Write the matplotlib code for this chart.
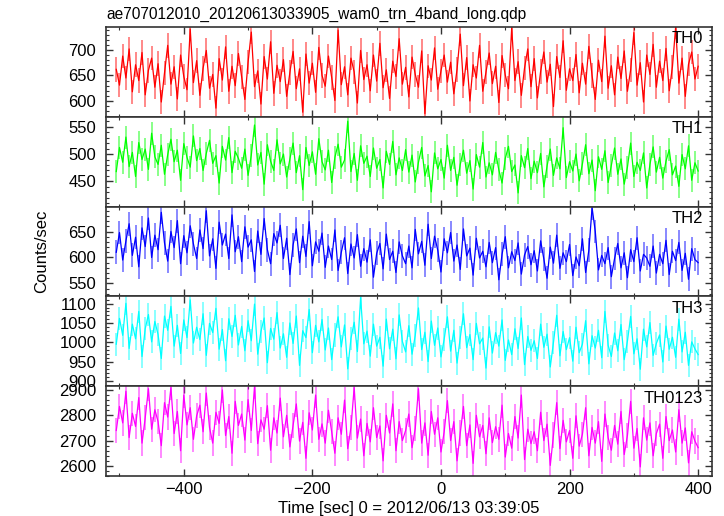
import numpy as np
import matplotlib
matplotlib.use("Agg")
import matplotlib.pyplot as plt
from matplotlib.ticker import MultipleLocator

plt.rcParams['font.family'] = ['Liberation Sans', 'DejaVu Sans']

# light curve, 5 s bins from -505 s to 400 s
t_start, t_stop, t_bin = -505, 400, 5
time = np.arange(t_start, t_stop + 1, t_bin)

th0 = [662, 631, 688, 645, 702, 618, 671, 640, 695, 612, 660, 684, 627,
       673, 598, 655, 709, 633, 667, 604, 690, 648, 622, 741, 636, 679,
       611, 664, 699, 625, 652, 586, 683, 641, 706, 619, 668, 630, 693,
       647, 603, 676, 735, 628, 659, 594, 687, 643, 716, 615, 670, 638,
       681, 609, 656, 697, 624, 663, 578, 692, 635, 674, 617, 705, 650,
       629, 688, 646, 601, 739, 632, 667, 612, 684, 657, 596, 699, 642,
       671, 620, 690, 639, 713, 626, 661, 605, 678, 648, 722, 633, 666,
       608, 686, 652, 627, 698, 575, 669, 641, 704, 623, 659, 690, 637,
       676, 614, 662, 731, 630, 685, 600, 671, 645, 709, 619, 657, 694,
       634, 668, 597, 689, 651, 624, 743, 640, 677, 611, 665, 702, 628,
       683, 606, 658, 696, 637, 672, 589, 687, 646, 718, 621, 663, 640,
       691, 616, 674, 633, 707, 650, 603, 680, 638, 727, 625, 669, 612,
       686, 644, 698, 619, 661, 734, 631, 675, 598, 690, 652, 711, 627,
       678, 640, 703, 620, 667, 745, 635, 684, 609, 672, 696, 643, 668]

th1 = [468, 512, 485, 531, 477, 503, 459, 521, 490, 509, 472, 538, 495,
       481, 516, 463, 499, 527, 486, 507, 452, 519, 494, 476, 533, 488,
       510, 470, 501, 525, 483, 497, 447, 514, 489, 530, 466, 505, 492,
       474, 509, 461, 498, 553, 480, 503, 445, 517, 487, 470, 526, 482,
       500, 458, 491, 520, 466, 497, 435, 512, 479, 504, 463, 528, 486,
       471, 507, 448, 494, 518, 476, 489, 560, 468, 501, 452, 515, 483,
       496, 459, 511, 474, 490, 438, 505, 481, 523, 462, 493, 470, 508,
       467, 498, 449, 485, 512, 460, 479, 431, 502, 473, 490, 456, 516,
       470, 494, 443, 481, 507, 465, 488, 436, 499, 476, 521, 458, 484,
       462, 503, 471, 447, 492, 514, 468, 480, 429, 497, 475, 510, 455,
       487, 466, 501, 440, 478, 509, 461, 493, 473, 548, 457, 486, 469,
       500, 451, 482, 517, 464, 489, 433, 495, 472, 506, 448, 479, 511,
       463, 491, 445, 476, 520, 459, 485, 470, 502, 438, 481, 513, 467,
       494, 456, 487, 508, 462, 478, 441, 499, 473, 515, 452, 484, 469]

th2 = [610, 648, 595, 632, 665, 604, 639, 582, 657, 621, 676, 600, 643,
       615, 687, 628, 593, 650, 619, 671, 588, 642, 609, 661, 626, 598,
       653, 617, 690, 603, 636, 579, 668, 624, 645, 598, 682, 611, 640,
       592, 659, 620, 634, 573, 651, 606, 675, 615, 588, 646, 628, 662,
       598, 637, 567, 624, 655, 590, 641, 602, 669, 584, 630, 612, 647,
       581, 622, 596, 653, 575, 610, 638, 569, 626, 599, 644, 583, 617,
       591, 634, 562, 608, 627, 578, 645, 596, 612, 571, 630, 603, 588,
       622, 580, 654, 607, 631, 585, 664, 598, 641, 614, 572, 636, 609,
       648, 593, 624, 577, 655, 603, 618, 566, 637, 599, 612, 582, 629,
       590, 619, 557, 606, 640, 580, 611, 594, 628, 568, 605, 621, 586,
       613, 574, 632, 597, 560, 620, 589, 643, 579, 609, 592, 625, 565,
       601, 584, 636, 571, 614, 696, 650, 576, 604, 588, 619, 563, 598,
       627, 580, 609, 561, 615, 592, 638, 574, 606, 599, 583, 622, 570,
       606, 588, 633, 567, 612, 594, 629, 575, 608, 558, 617, 596, 590]

th3 = [995, 1062, 1018, 1101, 984, 1047, 1009, 1080, 963, 1035, 1072, 1001, 1054,
       1020, 958, 1068, 1031, 1093, 990, 1044, 971, 1058, 1012, 1110, 998, 1039,
       1007, 1074, 966, 1049, 1025, 1088, 982, 1033, 952, 1061, 1015, 1070, 993,
       1041, 978, 1056, 1004, 1099, 969, 1028, 1063, 947, 1036, 1008, 1077, 985,
       1022, 961, 1050, 997, 1068, 940, 1030, 1012, 1085, 973, 1044, 1001, 1059,
       980, 1037, 955, 1019, 1066, 988, 1045, 931, 1010, 1052, 976, 1116, 996,
       1029, 964, 1047, 990, 1013, 938, 1060, 983, 1034, 957, 1071, 1002, 975,
       1043, 969, 1018, 1089, 981, 1026, 950, 1055, 992, 1037, 962, 1008, 1066,
       977, 1031, 946, 1012, 1074, 986, 1020, 955, 1049, 996, 1011, 933, 1040,
       972, 1025, 990, 1058, 953, 1006, 968, 1035, 984, 1063, 942, 1015, 979,
       1004, 958, 1047, 987, 1021, 936, 1000, 1070, 965, 1028, 981, 1012, 951,
       1039, 973, 995, 1056, 944, 1017, 985, 1031, 960, 1080, 992, 963, 1024,
       978, 1046, 955, 1003, 1067, 970, 1009, 930, 1034, 988, 1051, 966, 997,
       1019, 949, 1042, 982, 1013, 961, 1060, 975, 1026, 940, 1001, 983, 968]

th0123 = [2740, 2835, 2770, 2895, 2712, 2808, 2756, 2870, 2690, 2790, 2905, 2745, 2822,
          2775, 2680, 2850, 2793, 2910, 2728, 2815, 2660, 2880, 2762, 2830, 2705, 2798,
          2840, 2735, 2888, 2752, 2690, 2812, 2768, 2900, 2720, 2795, 2650, 2855, 2760,
          2805, 2702, 2862, 2740, 2915, 2688, 2782, 2745, 2838, 2662, 2790, 2730, 2868,
          2715, 2800, 2675, 2760, 2845, 2698, 2772, 2630, 2810, 2742, 2880, 2705, 2766,
          2690, 2820, 2735, 2650, 2790, 2725, 2860, 2668, 2752, 2910, 2710, 2785, 2640,
          2768, 2695, 2830, 2712, 2758, 2620, 2800, 2730, 2845, 2660, 2775, 2700, 2740,
          2805, 2672, 2748, 2905, 2690, 2770, 2642, 2815, 2725, 2790, 2655, 2735, 2858,
          2700, 2775, 2620, 2730, 2835, 2680, 2762, 2610, 2800, 2715, 2760, 2648, 2790,
          2692, 2755, 2705, 2840, 2635, 2728, 2670, 2795, 2710, 2880, 2625, 2745, 2688,
          2735, 2660, 2812, 2700, 2765, 2602, 2722, 2850, 2668, 2780, 2695, 2740, 2630,
          2798, 2678, 2725, 2830, 2640, 2752, 2690, 2775, 2618, 2805, 2712, 2662, 2760,
          2686, 2815, 2645, 2720, 2855, 2670, 2748, 2596, 2790, 2702, 2770, 2640, 2728,
          2765, 2630, 2795, 2700, 2742, 2655, 2822, 2690, 2750, 2612, 2735, 2698, 2672]

bands = ['TH0', 'TH1', 'TH2', 'TH3', 'TH0123']
rates = [th0, th1, th2, th3, th0123]
errors = [24, 21, 23, 30, 50]
colors = ['#ff0000', '#00ff00', '#0000ff', '#00ffff', '#ff00ff']
ylims = [(569, 745), (404, 568), (525, 698), (886, 1119), (2560, 2915)]
ymajor = [50, 50, 50, 50, 100]
yminor = [10, 10, 10, 10, 20]

fig, axes = plt.subplots(5, 1, sharex=True, figsize=(7.24, 5.16), dpi=100)
fig.subplots_adjust(left=0.1464, right=0.9834, top=0.9477, bottom=0.0775, hspace=0)

for ax, name, y, err, c, lim, maj, mnr in zip(axes, bands, rates, errors, colors,
                                               ylims, ymajor, yminor):
    ax.errorbar(time, y, yerr=err, fmt='none', ecolor=c, elinewidth=1.3, alpha=0.5)
    ax.plot(time, y, color=c, lw=0.9)
    ax.set_ylim(*lim)
    ax.yaxis.set_major_locator(MultipleLocator(maj))
    ax.yaxis.set_minor_locator(MultipleLocator(mnr))
    ax.xaxis.set_major_locator(MultipleLocator(200))
    ax.xaxis.set_minor_locator(MultipleLocator(100))
    ax.tick_params(which='both', direction='in', top=True, right=True,
                   labelsize=12, pad=7, color='#333333')
    ax.tick_params(which='major', length=5, width=1)
    ax.tick_params(which='minor', length=2.5, width=0.8)
    for s in ax.spines.values():
        s.set_linewidth(1.2)
        s.set_color('#333333')
    ax.text(0.985, 0.95, name, transform=ax.transAxes, ha='right', va='top', fontsize=12)

axes[-1].set_xlim(-521, 421.5)
axes[-1].set_xlabel('Time [sec] 0 = 2012/06/13 03:39:05', fontsize=12, labelpad=3)
axes[-1].tick_params(axis='x', pad=4)
fig.text(0.058, 0.513, 'Counts/sec', rotation=90, ha='center', va='center', fontsize=12)
fig.text(0.1464, 0.972, 'ae707012010_20120613033905_wam0_trn_4band_long.qdp',
         ha='left', va='center', fontsize=11.2)

fig.savefig('out.png', dpi=100)
